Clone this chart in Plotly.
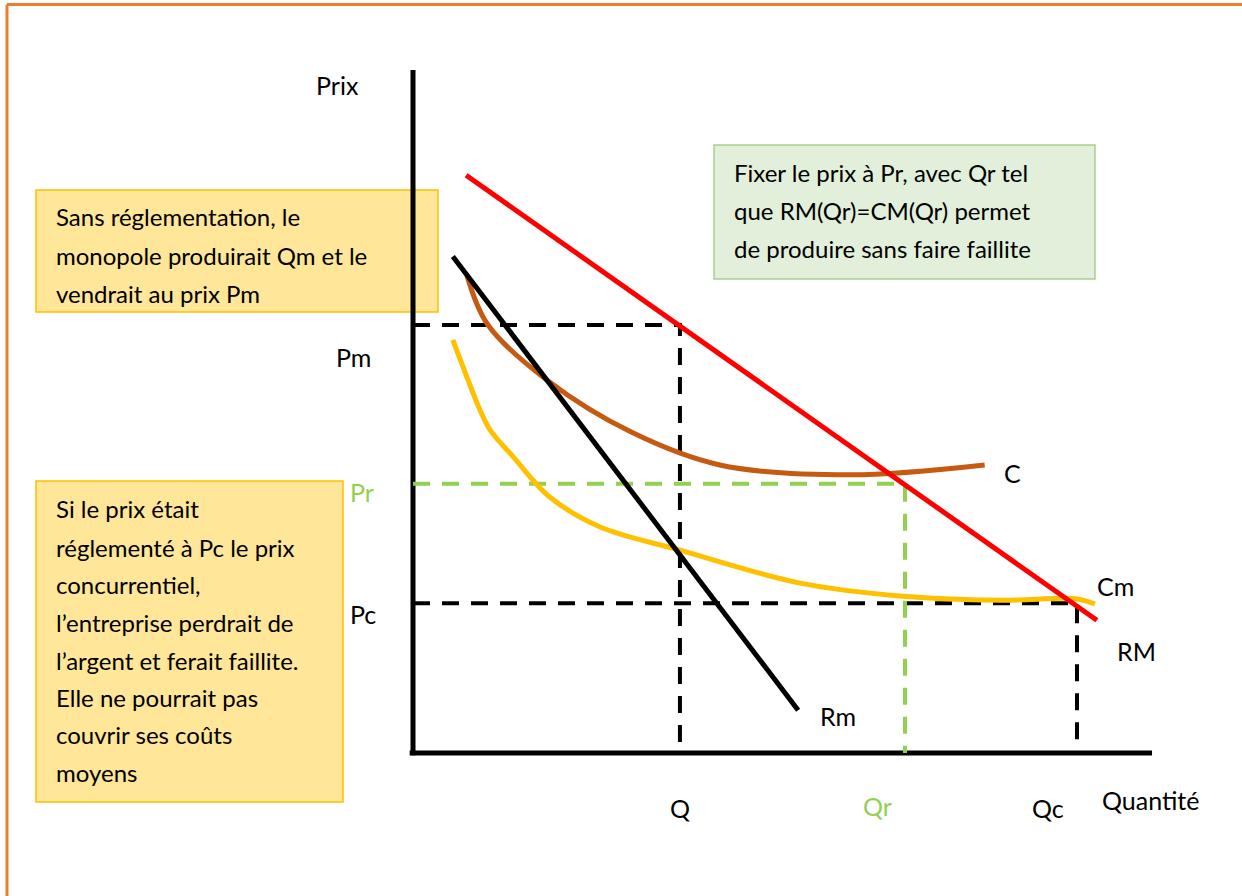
import plotly.graph_objects as go

# ---- data (economic units) ----
rm_demand_x = [0.8, 10.3]           # RM (recette moyenne / demande)
rm_demand_y = [13.5, 3.1]
rmarg_x = [0.6, 5.8]                # Rm (recette marginale)
rmarg_y = [11.6, 1.0]
c_x = [0.81, 1.13, 2.02, 3.31, 4.62, 6.58, 8.61]
c_y = [11.17, 10.00, 8.71, 7.48, 6.73, 6.50, 6.73]
cm_x = [0.60, 0.81, 1.01, 1.16, 1.51, 2.06, 2.82, 4.02, 5.83, 7.33, 8.84, 10.0, 10.27]
cm_y = [9.65, 8.79, 8.01, 7.55, 6.92, 5.98, 5.28, 4.74, 3.97, 3.67, 3.57, 3.60, 3.48]
Pm, Pr, Pc = 10.0, 6.29, 3.50
Q, Qr, Qc = 4.02, 7.41, 10.0
axis_x_max, axis_y_max = 11.13, 15.96

W, H = 1242, 896
FONT = "Lato"

fig = go.Figure()

# axes
fig.add_trace(go.Scatter(x=[0, 0], y=[-0.05, axis_y_max], mode="lines",
                         line=dict(color="black", width=5)))
fig.add_trace(go.Scatter(x=[-0.05, axis_x_max], y=[0, 0], mode="lines",
                         line=dict(color="black", width=5)))

# dashed guide lines
dash = "17px,12px"
fig.add_trace(go.Scatter(x=[0, Q, Q], y=[Pm, Pm, 0], mode="lines",
                         line=dict(color="black", width=4, dash=dash)))
fig.add_trace(go.Scatter(x=[0, Qc, Qc], y=[Pc, Pc, 0], mode="lines",
                         line=dict(color="black", width=4, dash=dash)))
fig.add_trace(go.Scatter(x=[0, Qr, Qr], y=[Pr, Pr, 0], mode="lines",
                         line=dict(color="#92D050", width=4, dash=dash)))

# curves
fig.add_trace(go.Scatter(x=c_x, y=c_y, mode="lines", line_shape="spline",
                         line=dict(color="#C55A11", width=5, smoothing=1.0)))
fig.add_trace(go.Scatter(x=cm_x, y=cm_y, mode="lines", line_shape="spline",
                         line=dict(color="#FFC000", width=5, smoothing=1.0)))
fig.add_trace(go.Scatter(x=rmarg_x, y=rmarg_y, mode="lines",
                         line=dict(color="black", width=5)))
fig.add_trace(go.Scatter(x=rm_demand_x, y=rm_demand_y, mode="lines",
                         line=dict(color="#FF0000", width=5)))


def px(xp):
    return xp / W


def py(yp):
    return 1 - yp / H


shapes = [
    # orange frame
    dict(type="line", xref="paper", yref="paper", x0=px(7), x1=1.0, y0=py(4.5), y1=py(4.5),
         line=dict(color="#ED7D31", width=3)),
    dict(type="line", xref="paper", yref="paper", x0=px(7), x1=px(7), y0=py(4.5), y1=0,
         line=dict(color="#ED7D31", width=3)),
    # text boxes
    dict(type="rect", xref="paper", yref="paper", x0=px(36), x1=px(438), y0=py(312), y1=py(190),
         fillcolor="#FFE699", line=dict(color="#FFC000", width=1.5), layer="below"),
    dict(type="rect", xref="paper", yref="paper", x0=px(36), x1=px(343), y0=py(802), y1=py(481),
         fillcolor="#FFE699", line=dict(color="#FFC000", width=1.5), layer="below"),
    dict(type="rect", xref="paper", yref="paper", x0=px(714), x1=px(1095), y0=py(279), y1=py(145),
         fillcolor="#E2EFDA", line=dict(color="#A9D08E", width=1.5), layer="below"),
]

annotations = []


def label(text, xp, yp, color="black", size=25, anchor="center"):
    annotations.append(dict(text=text, x=px(xp), y=py(yp), xref="paper", yref="paper",
                            showarrow=False, xanchor=anchor, yanchor="middle",
                            font=dict(family=FONT, size=size, color=color)))


label("Prix", 337, 85)
label("Pm", 353, 357)
label("Pr", 362, 492, color="#92D050")
label("Pc", 363, 614)
label("Q", 680, 808)
label("Qr", 877, 806, color="#92D050")
label("Qc", 1048, 808)
label("Quantité", 1150, 800)
label("C", 1012, 473)
label("Cm", 1115, 586)
label("RM", 1136, 651)
label("Rm", 838, 716)

box1 = ["Sans réglementation, le", "monopole produirait Qm et le", "vendrait au prix Pm"]
box1_y = [216, 255, 293]
for t, yy in zip(box1, box1_y):
    label(t, 54, yy, size=24, anchor="left")

box2 = ["Si le prix était", "réglementé à Pc le prix", "concurrentiel,",
        "l’entreprise perdrait de", "l’argent et ferait faillite.", "Elle ne pourrait pas",
        "couvrir ses coûts", "moyens"]
box2_y = [509, 547, 584, 622, 660, 697, 734, 772]
for t, yy in zip(box2, box2_y):
    label(t, 54, yy, size=24, anchor="left")

box3 = ["Fixer le prix à Pr, avec Qr tel", "que RM(Qr)=CM(Qr) permet",
        "de produire sans faire faillite"]
box3_y = [172, 210, 248]
for t, yy in zip(box3, box3_y):
    label(t, 732, yy, size=24, anchor="left")

fig.update_layout(
    width=W, height=H,
    margin=dict(l=0, r=0, t=0, b=0),
    paper_bgcolor="white", plot_bgcolor="white",
    showlegend=False,
    xaxis=dict(range=[-413 / 66.4, (W - 413) / 66.4], visible=False, fixedrange=True),
    yaxis=dict(range=[(753 - H) / 42.8, 753 / 42.8], visible=False, fixedrange=True),
    shapes=shapes,
    annotations=annotations,
)

fig.write_html("out.html", config={"displayModeBar": False},
               post_script="document.body.style.margin='0';document.body.style.overflow='hidden';")
